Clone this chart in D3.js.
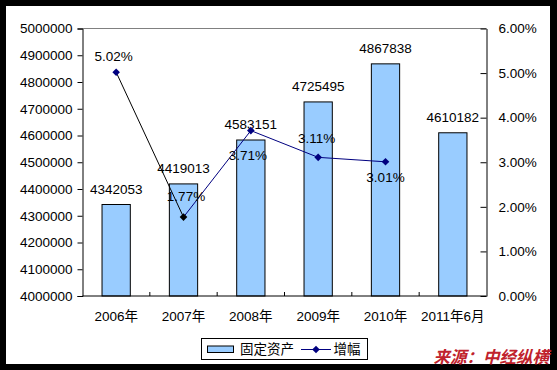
<!DOCTYPE html>
<html><head><meta charset="utf-8">
<script src="https://cdn.jsdelivr.net/npm/d3@7/dist/d3.min.js"></script>
<style>
html,body{margin:0;padding:0;background:#000;}
svg{display:block;}
text{font-family:"Liberation Sans",Arial,"Noto Sans CJK SC",sans-serif;}
</style></head>
<body>
<script>
const categories = ["2006年","2007年","2008年","2009年","2010年","2011年6月"];
const assetValues = [4342053, 4419013, 4583151, 4725495, 4867838, 4610182];
const growthValues = [5.02, 1.77, 3.71, 3.11, 3.01, null];
const leftTicks = [4000000,4100000,4200000,4300000,4400000,4500000,4600000,4700000,4800000,4900000,5000000];
const rightTicks = [0,1,2,3,4,5,6];
const seriesNames = ["固定资产","增幅"];
const sourceText = "来源：中经纵横";

// label layout tweaks (pixels), matched to reference placement
const growthLabelDx = [-2.5, 2.5, -3, -1.5, 0];
const growthLabelDy = [-16, -21, 25, -19.5, 15.5];

const W = 557, H = 370;
const L = 82.5, R = 486.5, T = 28.5, B = 296;
const svg = d3.select("body").append("svg").attr("width", W).attr("height", H);
svg.append("rect").attr("x",6).attr("y",6).attr("width",544).attr("height",358).attr("fill","#fff");

const x = d3.scaleBand().domain(categories).range([L, R]).paddingInner(0).paddingOuter(0);
const yL = d3.scaleLinear().domain([4000000, 5000000]).range([B, T]);
const yR = d3.scaleLinear().domain([0, 6]).range([B, T]);
const fontSize = "13.5px";
const txt = "#000";

// plot top border
svg.append("line").attr("x1",L).attr("x2",R).attr("y1",T).attr("y2",T).attr("stroke","#808080").attr("stroke-width",1);

// bars
const bw = x.bandwidth()*0.42;
svg.selectAll("rect.bar").data(assetValues).enter().append("rect")
  .attr("class","bar")
  .attr("x",(d,i)=>x(categories[i])+x.bandwidth()/2-bw/2)
  .attr("y",d=>yL(d))
  .attr("width",bw)
  .attr("height",d=>B-yL(d))
  .attr("fill","#99ccff").attr("stroke","#000").attr("stroke-width",1);

// left axis
const gL = svg.append("g").attr("transform",`translate(${L},0)`)
  .call(d3.axisLeft(yL).tickValues(leftTicks).tickSize(5).tickPadding(5).tickFormat(d3.format("d")));
gL.select(".domain").attr("stroke","#000");
gL.selectAll("text").attr("font-size",fontSize).attr("fill",txt).attr("font-family",null);

// right axis
const gR = svg.append("g").attr("transform",`translate(${R},0)`)
  .call(d3.axisRight(yR).tickValues(rightTicks).tickSizeInner(-6).tickSizeOuter(0).tickPadding(12).tickFormat(d=>d.toFixed(2)+"%"));
gR.select(".domain").attr("stroke","#000");
gR.selectAll("text").attr("font-size",fontSize).attr("fill",txt).attr("font-family",null);

// bottom axis
svg.append("line").attr("x1",L).attr("x2",R).attr("y1",B).attr("y2",B).attr("stroke","#000");
const bounds = categories.map(c=>x(c)).slice(1);
svg.selectAll("line.xt").data(bounds).enter().append("line")
  .attr("x1",d=>d).attr("x2",d=>d).attr("y1",B).attr("y2",B-4).attr("stroke","#000");
svg.selectAll("text.xl").data(categories).enter().append("text")
  .attr("x",d=>x(d)+x.bandwidth()/2).attr("y",320.5)
  .attr("text-anchor","middle").attr("font-size",fontSize).attr("fill",txt).text(d=>d);

// bar labels
svg.selectAll("text.bl").data(assetValues).enter().append("text")
  .attr("x",(d,i)=>x(categories[i])+x.bandwidth()/2)
  .attr("y",d=>yL(d)-11)
  .attr("text-anchor","middle").attr("font-size",fontSize).attr("fill",txt).text(d=>d);

// growth line
const pts = growthValues.map((v,i)=>v==null?null:[x(categories[i])+x.bandwidth()/2, yR(v)]).filter(p=>p);
const segColors = pts.slice(1).map((p,i)=>i===0?"#000":"#000080");
svg.selectAll("line.seg").data(pts.slice(1)).enter().append("line")
  .attr("x1",(d,i)=>pts[i][0]).attr("y1",(d,i)=>pts[i][1])
  .attr("x2",d=>d[0]).attr("y2",d=>d[1])
  .attr("stroke",(d,i)=>segColors[i]).attr("stroke-width",1);
const diamond = "M0,-3.8L3.8,0L0,3.8L-3.8,0Z";
svg.selectAll("path.mk").data(pts).enter().append("path")
  .attr("d",diamond).attr("transform",d=>`translate(${d[0]},${d[1]})`)
  .attr("fill",(d,i)=>i===1?"#000":"#000080");
svg.selectAll("text.gl").data(growthValues.filter(v=>v!=null)).enter().append("text")
  .attr("x",(d,i)=>pts[i][0]+growthLabelDx[i])
  .attr("y",(d,i)=>pts[i][1]+growthLabelDy[i])
  .attr("dy","0.36em")
  .attr("text-anchor","middle").attr("font-size",fontSize).attr("fill",txt).text(d=>d.toFixed(2)+"%");

// legend
const lg = svg.append("g");
lg.append("rect").attr("x",201.5).attr("y",338.5).attr("width",166).attr("height",21).attr("fill","#fff").attr("stroke","#000");
lg.append("rect").attr("x",207.5).attr("y",346).attr("width",26).attr("height",6.5).attr("fill","#99ccff").attr("stroke","#000");
lg.append("text").attr("x",240).attr("y",349.5).attr("dy","0.36em").attr("font-size",fontSize).attr("fill",txt).text(seriesNames[0]);
lg.append("line").attr("x1",301).attr("x2",331).attr("y1",349.5).attr("y2",349.5).attr("stroke","#000080");
lg.append("path").attr("d",diamond).attr("transform","translate(316,349.5)").attr("fill","#000080");
lg.append("text").attr("x",333.5).attr("y",349.5).attr("dy","0.36em").attr("font-size",fontSize).attr("fill",txt).text(seriesNames[1]);

// source
svg.append("text").attr("x",549).attr("y",363).attr("text-anchor","end")
  .attr("font-size","16.5px").attr("font-weight","bold").attr("font-style","italic")
  .attr("fill","#c0222c").attr("font-family","'Noto Sans CJK SC',sans-serif").text(sourceText);
</script>
</body></html>
